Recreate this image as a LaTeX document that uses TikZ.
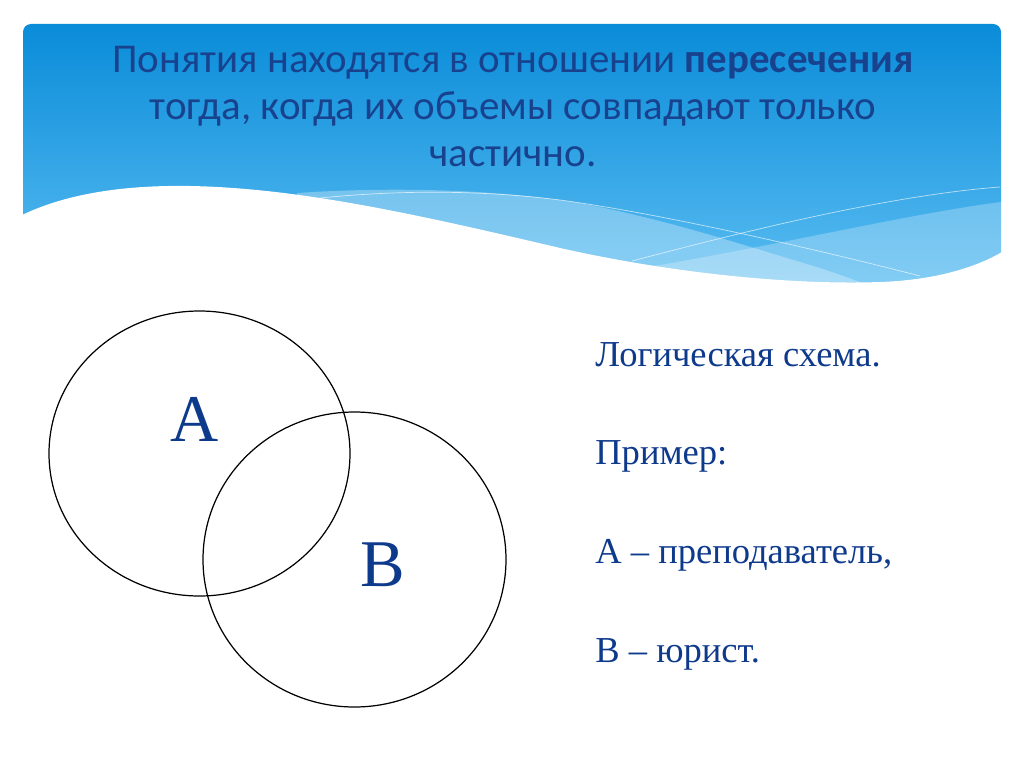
\documentclass[tikz,border=0pt]{standalone}
\usepackage{fontspec}
\setmainfont{Liberation Serif}
\newfontfamily\calib{Carlito}
\usepackage{tikz}
\definecolor{bnA}{RGB}{10,140,217}
\definecolor{bnB}{RGB}{92,190,242}
\definecolor{ttl}{RGB}{24,66,142}
\definecolor{ink}{RGB}{14,58,140}
\tikzset{
  ttlline/.style={anchor=base,text=ttl,inner sep=0pt,font=\calib\fontsize{23.3}{27}\selectfont},
  txt/.style={anchor=base west,text=ink,inner sep=0pt,font=\fontsize{20.8}{24}\selectfont},
  lbl/.style={anchor=base,text=ink,inner sep=0pt,font=\fontsize{38}{44}\selectfont},
  ring/.style={draw=black,line width=0.7pt},
  wline/.style={draw=white,draw opacity=0.65,line width=0.4pt}
}

\begin{document}
\begin{tikzpicture}[x=0.02cm,y=-0.02cm]
\useasboundingbox (0,0) rectangle (1024,767);
\shade[top color=bnA,bottom color=bnB,rounded corners=0.16cm] (23,24) rectangle (1001,295);
\fill[white,opacity=0.3] (297,193) .. controls (400,186) and (520,190) .. (600,207) .. controls (680,224) and (740,244) .. (800,262) .. controls (840,274) and (870,285) .. (900,300) -- (290,300) -- cycle;
\fill[white,opacity=0.25] (600,275) .. controls (760,250) and (900,215) .. (1001,202) -- (1001,300) -- (600,300) -- cycle;
\draw[wline] (320,198) .. controls (400,190) and (480,190) .. (560,200) .. controls (650,212) and (800,245) .. (920,276);
\draw[wline] (632,261) .. controls (720,238) and (880,196) .. (1000,187);
\fill[white] (22,215) .. controls (70,192) and (130,185) .. (190,186) .. controls (300,188) and (420,215) .. (560,248) .. controls (680,275) and (800,285) .. (880,282) .. controls (940,280) and (980,265) .. (1002,252) -- (1002,300) -- (22,300) -- cycle;
\node[ttlline] (t1) at (513,72) {Понятия находятся в отношении \textbf{пересечения}};
\node[ttlline] (t2) at (513,119) {тогда, когда их объемы совпадают только};
\node[ttlline] (t3) at (513,166) {частично.};
\draw[ring] (199.5,453.5) ellipse [x radius=150.5,y radius=142.5];
\draw[ring] (354.5,559.5) ellipse [x radius=151.5,y radius=147.5];
\node[lbl] (la) at (195,441) {A};
\node[lbl] (lb) at (383,586) {B};
\node[txt] (s1) at (595,366) {Логическая схема.};
\node[txt] (s2) at (595,464) {Пример:};
\node[txt] (s3) at (595,563) {А – преподаватель,};
\node[txt] (s4) at (595,662) {В – юрист.};
\end{tikzpicture}
\end{document}
